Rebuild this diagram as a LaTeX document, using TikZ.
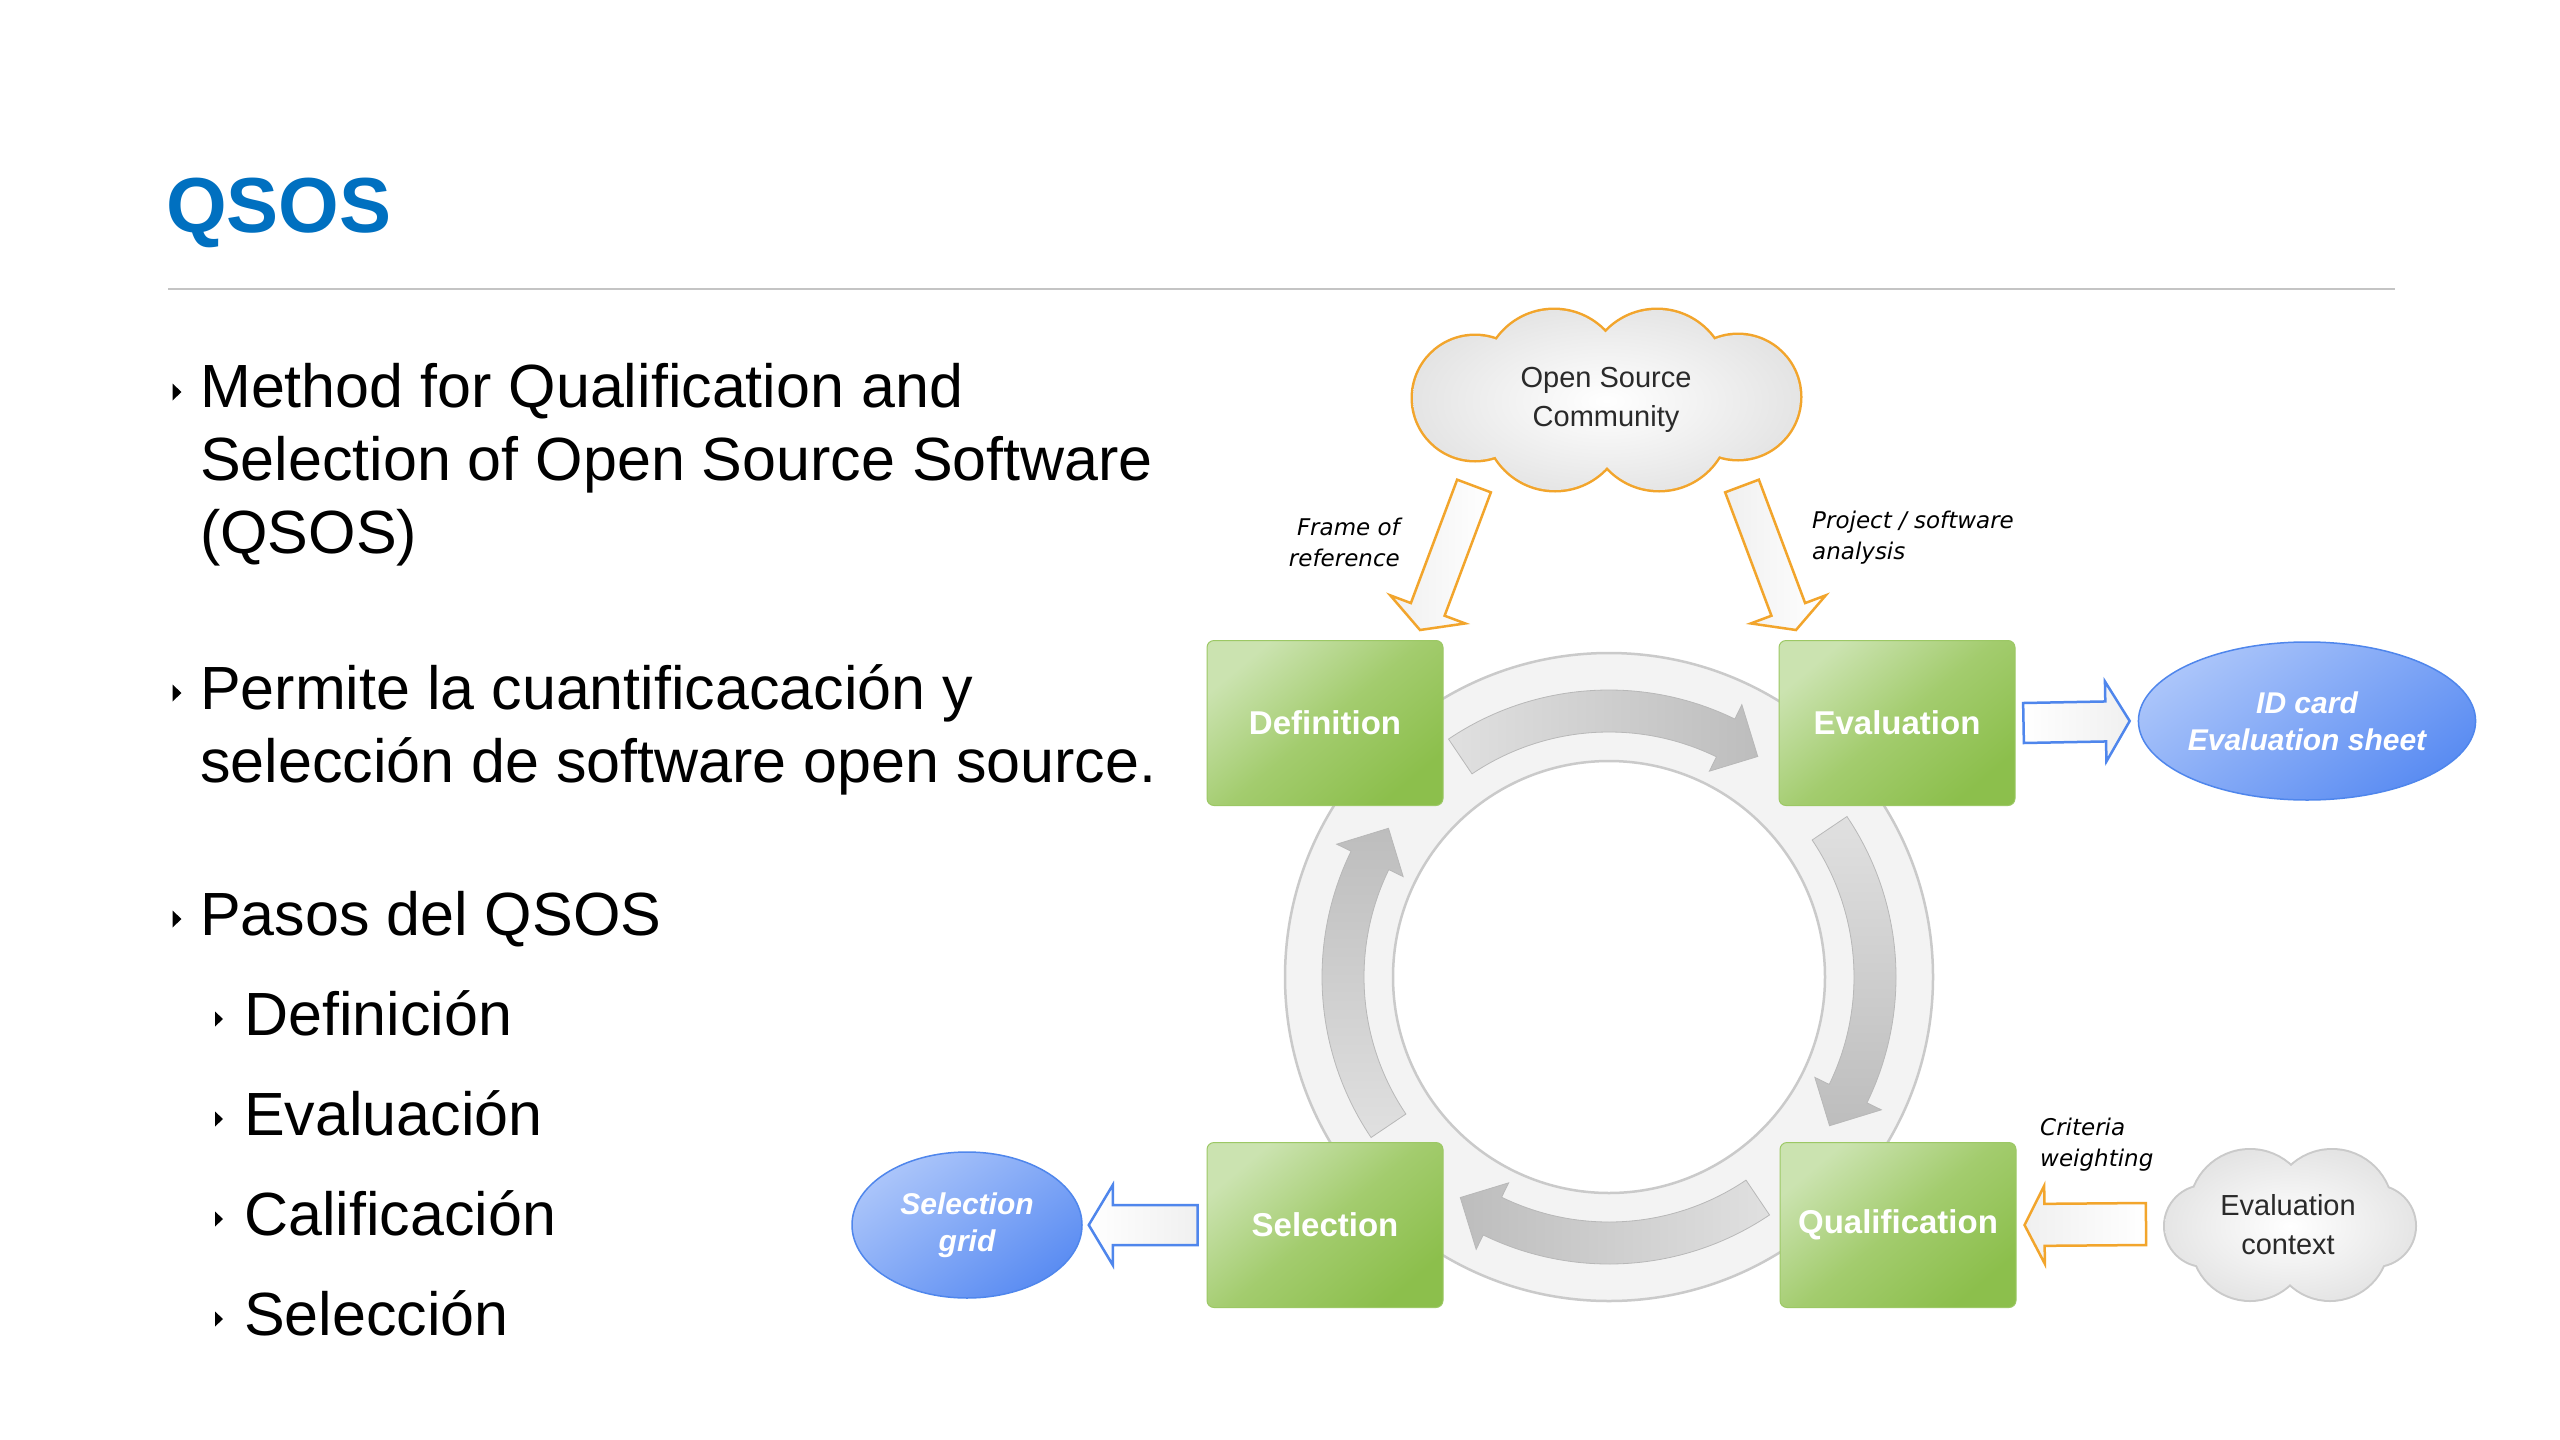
\documentclass[tikz,border=0pt]{standalone}
\usepackage{fontspec}
\setmainfont{Liberation Sans}
\newfontfamily\dvsans{DejaVu Sans}
\usetikzlibrary{shapes.geometric,calc}
\definecolor{titleblue}{HTML}{0070C0}
\definecolor{sepgray}{HTML}{C4C4C4}
\definecolor{glight}{HTML}{CBE3B0}
\definecolor{gmid}{HTML}{A3CC6E}
\definecolor{gdark}{HTML}{8CBF4C}
\definecolor{gline}{HTML}{9CC865}
\definecolor{orangeline}{HTML}{F2A52C}
\definecolor{blueline}{HTML}{4F86EC}
\definecolor{bluelight}{HTML}{ABC5FA}
\definecolor{bluedark}{HTML}{5A8CF2}
\definecolor{ringfill}{HTML}{F3F3F3}
\definecolor{ringline}{HTML}{CACACA}
\definecolor{arrlight}{HTML}{E0E0E0}
\definecolor{arrdark}{HTML}{BDBDBD}
\definecolor{arrline}{HTML}{B8B8B8}
\definecolor{cloudgray}{HTML}{E2E2E2}
\definecolor{cloudtext}{HTML}{2A2A2A}
\newcommand\bultri[2]{\fill (#1-4.5,#2+8.5) -- (#1+4.5,#2) -- (#1-4.5,#2-8.5) -- cycle;}
\newcommand\subtri[2]{\fill (#1-4,#2+7.5) -- (#1+4,#2) -- (#1-4,#2-7.5) -- cycle;}
% block arrow: #1 style, #2 from, #3 to, #4 shaft half width, #5 head half width, #6 head length
\newcommand\blockarrow[6]{%
  \path let \p1=#2, \p2=#3 in \pgfextra{%
    \pgfmathsetmacro\baA{atan2(\y2-\y1,\x2-\x1)}%
    \pgfmathsetmacro\baL{veclen(\x2-\x1,\y2-\y1)}%
    \xdef\baAng{\baA}\xdef\baLen{\baL}%
    \xdef\baX{\x1}\xdef\baY{\y1}};
  \path[#1, shift={(\baX,\baY)}, rotate=\baAng]
    (0,#4) -- ({\baLen-#6},#4) -- ({\baLen-#6},#5) -- (\baLen,0)
    -- ({\baLen-#6},-#5) -- ({\baLen-#6},-#4) -- (0,-#4) -- cycle;
}
% curved ring arrow: #1 tail angle, #2 tip angle, #3 shading
\newcommand\ringarrow[3]{%
  \path[ringarr, #3] ($(rc)+(#1:287)$) arc[start angle=#1, end angle=#2+8, radius=287]
    -- ($(rc)+(#2+8:303)$) -- ($(rc)+(#2:266)$) -- ($(rc)+(#2+8:229)$)
    -- ($(rc)+(#2+8:245)$) arc[start angle=#2+8, end angle=#1, radius=245] -- cycle;
}
% cloud outlines (union of lobes)
\newcommand\oslobes[1]{\path[#1] (1554,-380) circle[radius=70] (1657,-380) circle[radius=70]
  (1555,-420) circle[radius=70] (1659,-420) circle[radius=70]
  (1475,-398) circle[radius=62] (1738,-397) circle[radius=62]
  (1606,-401) ellipse[x radius=150, y radius=60];}
\newcommand\evlobes[1]{\path[#1] (2250,-1210) circle[radius=60] (2332,-1210) circle[radius=60]
  (2250,-1242) circle[radius=58] (2330,-1242) circle[radius=58]
  (2205,-1226) circle[radius=40] (2375,-1226) circle[radius=40]
  (2290,-1226) ellipse[x radius=90, y radius=50];}
\begin{document}
\begin{tikzpicture}[x=1pt,y=1pt,
  body/.style={anchor=base west, inner sep=0pt, font=\fontsize{61}{73}\selectfont},
  stepbox/.style={rounded corners=7pt, minimum width=236pt, minimum height=165pt,
    top color=glight, bottom color=gdark, middle color=gmid, shading angle=40,
    draw=gline, line width=1pt, text=white, font=\bfseries\fontsize{33}{40}\selectfont, inner sep=0pt},
  blob/.style={ellipse, draw=blueline, line width=1.5pt, top color=bluelight, bottom color=bluedark,
    shading angle=35, text=white, font=\bfseries\itshape\fontsize{30}{37}\selectfont, align=center, inner sep=0pt},
  cloudtxt/.style={inner sep=0pt, align=center, text=cloudtext, font=\fontsize{29}{39}\selectfont},
  note/.style={font=\dvsans\itshape\fontsize{23}{31}\selectfont, inner sep=0pt},
  orangearr/.style={draw=orangeline, line width=2.5pt, left color=gray!12, right color=white},
  bluearr/.style={draw=blueline, line width=2.5pt, left color=white, right color=gray!12},
  ringarr/.style={draw=arrline, line width=0.8pt},
]
\useasboundingbox (0,0) rectangle (2560,-1440);
\fill[white] (0,0) rectangle (2560,-1440);

% title and rule
\node[anchor=base west, inner sep=0pt, text=titleblue, font=\bfseries\fontsize{78}{94}\selectfont] (title) at (166,-232) {QSOS};
\draw[sepgray, line width=2pt] (168,-289) -- (2395,-289);

% bullet text
\bultri{177}{-392}
\node[body] (b1a) at (200,-407) {Method for Qualification and};
\node[body] (b1b) at (200,-480) {Selection of Open Source Software};
\node[body] (b1c) at (200,-553) {(QSOS)};
\bultri{177}{-693}
\node[body] (b2a) at (200,-709) {Permite la cuantificacación y};
\node[body] (b2b) at (200,-782) {selección de software open source.};
\bultri{177}{-919}
\node[body] (b3) at (200,-935) {Pasos del QSOS};
\subtri{219}{-1019}
\node[body] (s1) at (244,-1035) {Definición};
\subtri{219}{-1119}
\node[body] (s2) at (244,-1135) {Evaluación};
\subtri{219}{-1219}
\node[body] (s3) at (244,-1235) {Calificación};
\subtri{219}{-1319}
\node[body] (s4) at (244,-1335) {Selección};

% ring
\coordinate (rc) at (1609,-977);
\fill[ringfill, even odd rule] (rc) circle[radius=324] (rc) circle[radius=216];
\draw[ringline, line width=2.5pt] (rc) circle[radius=324];
\draw[ringline, line width=2.5pt] (rc) circle[radius=216];
\ringarrow{124}{56}{left color=arrlight, right color=arrdark}
\ringarrow{34}{-34}{top color=arrlight, bottom color=arrdark}
\ringarrow{-56}{-124}{right color=arrlight, left color=arrdark}
\ringarrow{214}{146}{bottom color=arrlight, top color=arrdark}

% step boxes
\node[stepbox] (def)  at (1325,-723) {Definition};
\node[stepbox] (eval) at (1897,-723) {Evaluation};
\node[stepbox] (sel)  at (1325,-1225) {Selection};
\node[stepbox] (qual) at (1898,-1225) {Qualification};

% top cloud and its arrows
\coordinate (fa1) at (1474,-486);
\coordinate (fa2) at (1420,-630);
\coordinate (pa1) at (1742,-486);
\coordinate (pa2) at (1796,-630);
\blockarrow{orangearr}{(fa1)}{(fa2)}{18}{40}{22}
\blockarrow{orangearr}{(pa1)}{(pa2)}{18}{40}{22}
\oslobes{draw=orangeline, line width=5pt}
\begin{scope}
  \oslobes{clip}
  \shade[inner color=white, outer color=cloudgray] (1606,-401) ellipse[x radius=210, y radius=105];
\end{scope}
\node[cloudtxt] (oscloud) at (1606,-400) {Open Source\\Community};
\node[note, align=right, anchor=east] (frame) at (1400,-542) {Frame of\\reference};
\node[note, align=left, anchor=west] (proj) at (1812,-538) {Project / software\\analysis};

% outputs
\node[blob, minimum width=328pt, minimum height=158pt] (idcard) at (2307,-721) {ID card\\Evaluation sheet};
\blockarrow{bluearr}{($(eval.east)+(8,0)$)}{($(idcard.west)+(-8,0)$)}{20}{40}{24}
\node[blob, minimum width=230pt, minimum height=146pt] (selgrid) at (967,-1225) {Selection\\grid};
\blockarrow{bluearr}{($(sel.west)+(-9,0)$)}{($(selgrid.east)+(6,0)$)}{20}{40}{24}

% evaluation context
\evlobes{draw=ringline, line width=4pt}
\begin{scope}
  \evlobes{clip}
  \shade[inner color=white, outer color=cloudgray] (2290,-1226) ellipse[x radius=140, y radius=85];
\end{scope}
\node[cloudtxt] (evcloud) at (2288,-1225) {Evaluation\\context};
\coordinate (ecw) at (2156,-1224);
\blockarrow{orangearr}{($(ecw)+(-10,0)$)}{($(qual.east)+(8,0)$)}{21}{39}{20}
\node[note, align=left, anchor=west] (crit) at (2040,-1145) {Criteria\\weighting};
\end{tikzpicture}
\end{document}
